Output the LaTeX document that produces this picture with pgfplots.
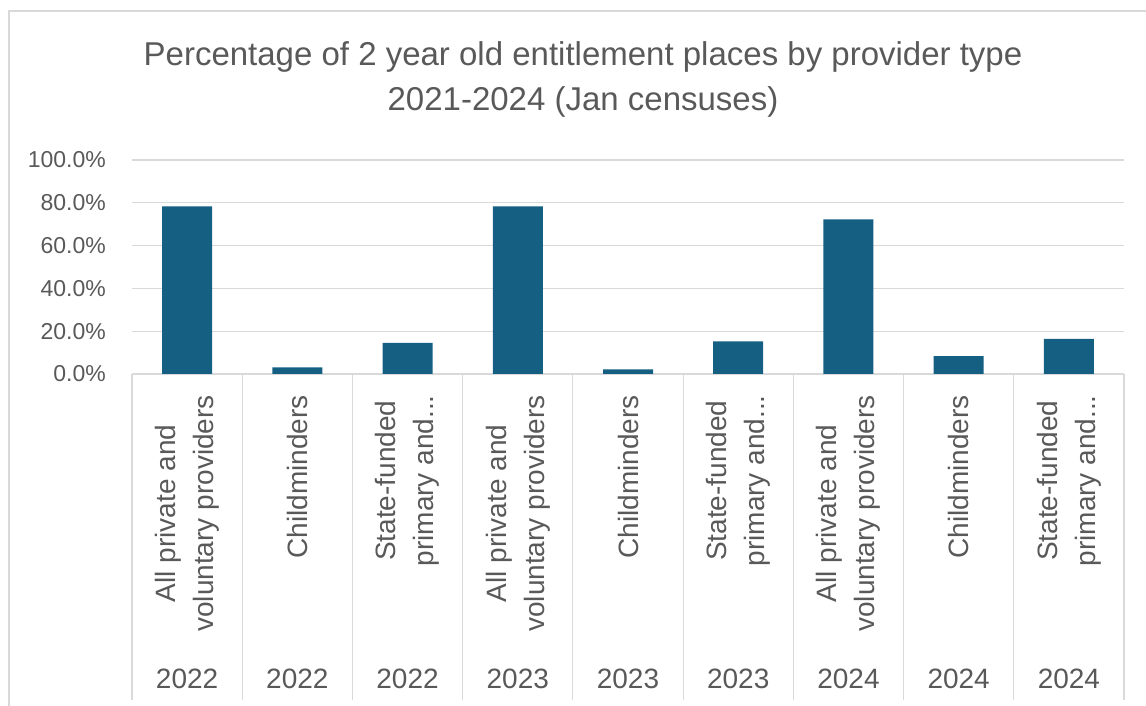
\documentclass[border=0pt]{standalone}
\usepackage{fontspec}
\setmainfont{Liberation Sans}
\usepackage{pgfplots}
\pgfplotsset{compat=1.18}
\definecolor{barc}{HTML}{156082}
\definecolor{txt}{HTML}{595959}
\definecolor{gridc}{HTML}{D9D9D9}
\newcommand{\tdots}{.\kern0pt.\kern0pt.}
\begin{document}
\begin{tikzpicture}
\path[use as bounding box] (0,0) rectangle (1146pt,706pt);
\draw[gridc, line width=1.2pt] (9pt,0pt) -- (9pt,695pt) -- (1146pt,695pt);
\node[anchor=base, text=txt, font=\fontsize{33}{38}\selectfont, inner sep=0pt] at (583pt,640pt) {Percentage of 2 year old entitlement places by provider type};
\node[anchor=base, text=txt, font=\fontsize{33}{38}\selectfont, inner sep=0pt] at (583pt,595pt) {2021-2024 (Jan censuses)};
\begin{axis}[
  at={(132pt,332pt)}, anchor=south west,
  width=992pt, height=214pt, scale only axis,
  xmin=-0.5, xmax=8.5, ymin=0, ymax=100,
  axis x line*=bottom, axis y line*=left,
  y axis line style={draw=none},
  x axis line style={draw=gridc, line width=1.2pt},
  major tick length=0pt,
  ytick={0,20,...,100},
  ymajorgrids,
  major grid style={draw=gridc, line width=1.3pt},
  /pgf/number format/assume math mode=true,
  yticklabel={\pgfmathprintnumber[fixed,fixed zerofill,precision=1]{\tick}\%},
  yticklabel style={text=txt, font=\fontsize{23}{28}\selectfont, inner sep=0pt, anchor=east, xshift=-26pt},
  xtick={0,1,2,3,4,5,6,7,8},
  xticklabels={{All private and\\voluntary providers},{Childminders},{State-funded\\primary and\tdots},{All private and\\voluntary providers},{Childminders},{State-funded\\primary and\tdots},{All private and\\voluntary providers},{Childminders},{State-funded\\primary and\tdots}},
  xticklabel style={text=txt, font=\fontsize{28}{38}\selectfont, align=center, inner sep=0pt, yshift=-21pt, rotate=90, anchor=east},
  extra x ticks={0,1,2,3,4,5,6,7,8},
  extra x tick labels={2022,2022,2022,2023,2023,2023,2024,2024,2024},
  extra x tick style={grid=none, xticklabel style={rotate=-90, anchor=base, yshift=-293pt}},
]
\addplot[ybar, bar width=50pt, fill=barc, draw=none] coordinates {
  (0,78.3) (1,3.1) (2,14.5) (3,78.3) (4,2.2) (5,15.3) (6,72.2) (7,8.3) (8,16.4)
};
\end{axis}
\foreach \k in {0,1,2,3,4,5,6,7,8,9} \draw[gridc, line width=1.2pt] ({(132+110.222*\k)*1pt},332pt) -- ++(0,-326pt);
\end{tikzpicture}
\end{document}
